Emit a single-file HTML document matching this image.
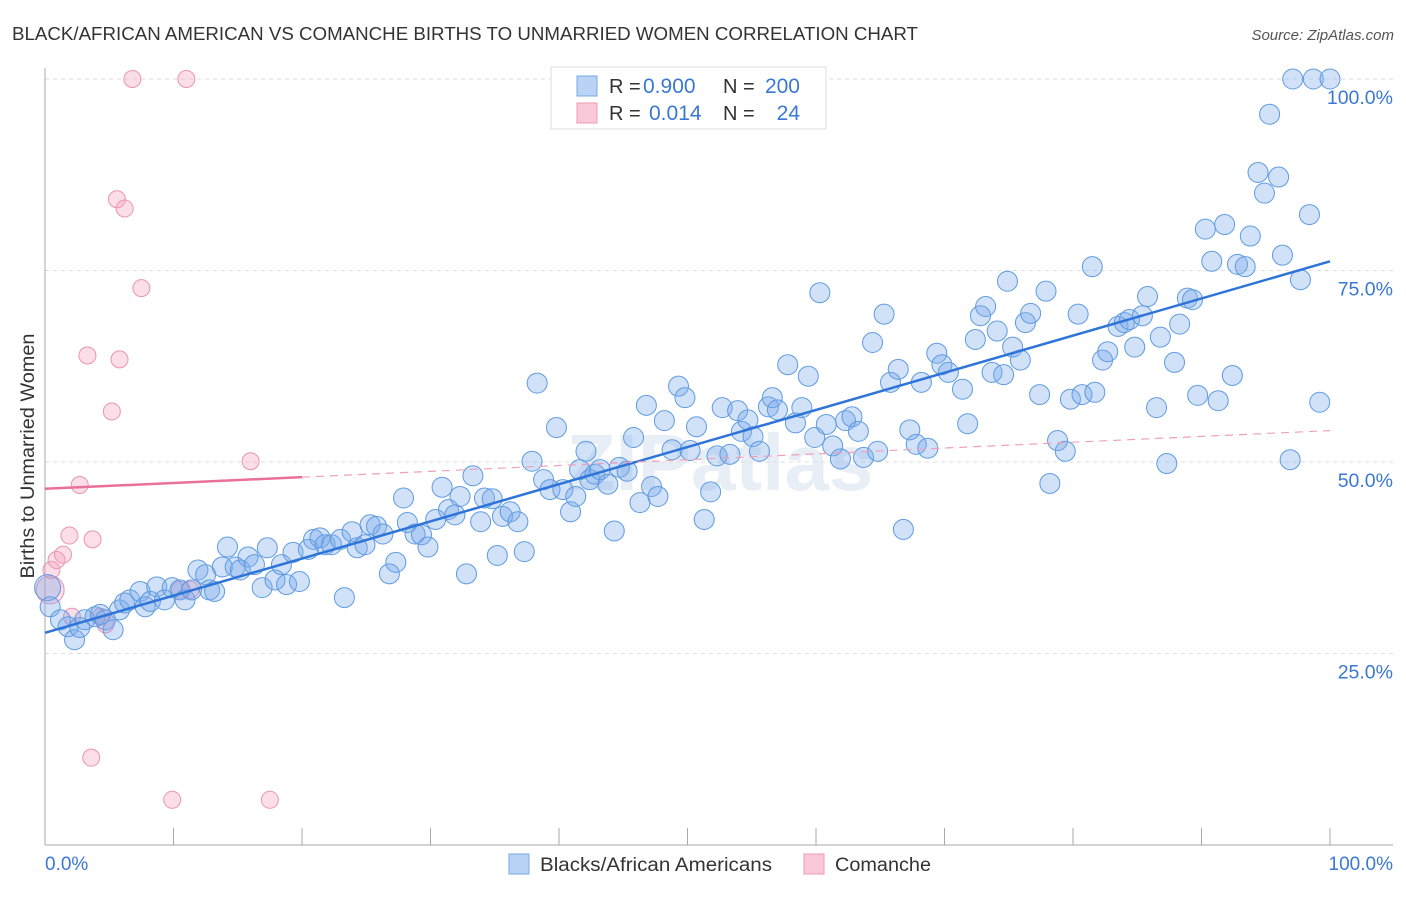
<!DOCTYPE html>
<html><head><meta charset="utf-8">
<style>
body{margin:0;background:#fff;}
svg text{font-family:"Liberation Sans",sans-serif;}
</style></head>
<body>
<svg id="chart" width="1406" height="892" xmlns="http://www.w3.org/2000/svg">
<text x="12" y="40" font-size="18" fill="#333" textLength="906" lengthAdjust="spacingAndGlyphs">BLACK/AFRICAN AMERICAN VS COMANCHE BIRTHS TO UNMARRIED WOMEN CORRELATION CHART</text>
<text x="1394" y="40" font-size="15" fill="#555" text-anchor="end" font-style="italic">Source: ZipAtlas.com</text>
<text x="720" y="490" font-size="80" fill="#dfe8f3" text-anchor="middle" font-weight="bold" opacity="0.7">ZIPatlas</text>
<g id="grid"></g>
<g id="axes"></g>
<g id="pinkPts"></g>
<g id="bluePts"></g>
<g id="lines"></g>
<text transform="translate(34,456) rotate(-90)" font-size="19" fill="#333" text-anchor="middle" textLength="245" lengthAdjust="spacingAndGlyphs">Births to Unmarried Women</text>
<text x="45" y="870" font-size="19" fill="#3a78d4">0.0%</text>
<text x="1393" y="870" font-size="19" fill="#3a78d4" text-anchor="end">100.0%</text>
<g>
<rect x="551" y="67" width="275" height="62" fill="#fff" stroke="#ddd"/>
<rect x="577" y="76" width="20" height="20" fill="#b8d3f5" stroke="#7aa9e6"/>
<rect x="577" y="103" width="20" height="20" fill="#fac8d8" stroke="#ee9ab7"/>
<text x="609" y="93" font-size="20" fill="#333">R =</text>
<text x="643" y="93" font-size="21" fill="#3a78d4">0.900</text>
<text x="723" y="93" font-size="20" fill="#333">N =</text>
<text x="800" y="93" font-size="21" fill="#3a78d4" text-anchor="end">200</text>
<text x="609" y="120" font-size="20" fill="#333">R =</text>
<text x="649" y="120" font-size="21" fill="#3a78d4">0.014</text>
<text x="723" y="120" font-size="20" fill="#333">N =</text>
<text x="800" y="120" font-size="21" fill="#3a78d4" text-anchor="end">24</text>
</g>
<g>
<rect x="509" y="854" width="20" height="20" fill="#b8d3f5" stroke="#7aa9e6"/>
<text x="540" y="871" font-size="19" fill="#333" textLength="232" lengthAdjust="spacingAndGlyphs">Blacks/African Americans</text>
<rect x="804" y="854" width="20" height="20" fill="#fac8d8" stroke="#ee9ab7"/>
<text x="835" y="871" font-size="19" fill="#333" textLength="96" lengthAdjust="spacingAndGlyphs">Comanche</text>
</g>
</svg>
<script>
const blueX=[0.2,0.4,1.2,1.8,2.3,2.7,3.1,3.9,4.3,4.7,5.3,5.8,6.2,6.6,7.4,7.8,8.2,8.7,9.3,9.9,10.5,10.9,11.4,11.9,12.5,12.8,13.2,13.8,14.2,14.8,15.2,15.8,16.3,16.9,17.3,17.9,18.4,18.8,19.3,19.8,20.5,20.9,21.4,21.8,22.3,23.0,23.3,23.9,24.3,24.9,25.3,25.8,26.3,26.8,27.3,27.9,28.2,28.8,29.3,29.8,30.4,30.9,31.4,31.9,32.3,32.8,33.3,33.9,34.2,34.8,35.2,35.6,36.2,36.8,37.3,37.9,38.3,38.8,39.3,39.8,40.3,40.9,41.3,41.6,42.1,42.4,42.8,43.2,43.8,44.3,44.7,45.3,45.8,46.3,46.8,47.2,47.7,48.2,48.8,49.3,49.8,50.2,50.7,51.3,51.8,52.3,52.7,53.3,53.9,54.2,54.7,55.1,55.6,56.3,56.6,57.0,57.8,58.4,58.9,59.4,59.9,60.3,60.8,61.3,61.9,62.3,62.8,63.3,63.7,64.4,64.8,65.3,65.8,66.4,66.8,67.3,67.8,68.2,68.7,69.4,69.8,70.3,71.4,71.8,72.4,72.8,73.2,73.7,74.1,74.6,74.9,75.3,75.9,76.3,76.7,77.4,77.9,78.2,78.8,79.4,79.8,80.4,80.7,81.5,81.7,82.3,82.7,83.5,84.0,84.4,84.8,85.4,85.8,86.5,86.8,87.3,87.9,88.3,88.9,89.3,89.7,90.3,90.8,91.3,91.8,92.4,92.8,93.4,93.8,94.4,94.9,95.3,96.0,96.3,96.9,97.1,97.7,98.4,98.7,99.2,100];
const blueY=[33.6,31.1,29.4,28.5,26.8,28.4,29.4,29.8,30.1,29.4,28.1,30.7,31.6,32.0,33.1,31.1,31.8,33.7,32.0,33.6,33.3,32.0,33.3,35.9,35.3,33.3,33.1,36.3,38.9,36.3,35.9,37.6,36.6,33.6,38.8,34.6,36.6,34.0,38.2,34.4,38.6,39.9,40.1,39.2,39.2,39.9,32.3,40.9,38.8,39.2,41.8,41.6,40.6,35.4,36.9,45.3,42.1,40.6,40.5,38.9,42.5,46.7,43.8,43.1,45.5,35.4,48.2,42.2,45.3,45.2,37.8,42.9,43.5,42.2,38.3,50.1,60.3,47.7,46.4,54.5,46.4,43.5,45.5,49.0,51.4,47.7,48.4,49.0,47.1,41.0,49.3,48.8,53.2,44.7,57.4,46.8,45.5,55.4,51.6,59.9,58.4,51.5,54.6,42.5,46.1,50.8,57.1,51.0,56.7,54.0,55.5,53.3,51.4,57.2,58.4,56.8,62.7,55.1,57.1,61.2,53.2,72.1,54.9,52.1,50.4,55.4,55.9,54.0,50.6,65.6,51.4,69.3,60.4,62.1,41.2,54.2,52.3,60.4,51.8,64.2,62.7,61.7,59.5,55.0,66.0,69.1,70.3,61.7,67.1,61.4,73.6,65.0,63.3,68.2,69.4,58.8,72.3,47.2,52.8,51.4,58.2,69.3,58.8,75.5,59.1,63.3,64.4,67.7,68.2,68.6,65.0,69.1,71.6,57.1,66.3,49.8,63.0,68.0,71.4,71.2,58.7,80.4,76.2,58.0,81.0,61.3,75.8,75.5,79.5,87.8,85.1,95.4,87.2,77.0,50.3,100,73.8,82.3,100,57.8,100];
const pinkX=[0.4,0.5,0.9,1.4,1.9,2.1,2.7,3.3,3.6,3.7,4.3,4.7,5.2,5.6,5.8,6.2,6.8,7.5,9.9,10.5,11.0,11.3,16.0,17.5];
const pinkY=[33.3,35.9,37.2,37.9,40.4,29.8,47.0,63.9,11.4,39.9,29.8,28.8,56.6,84.3,63.4,83.1,100,72.7,5.9,33.3,100,33.3,50.1,5.9];
const blueTrend=[27.7,76.2];   // y at x=0, x=100
const pinkTrend=[46.5,54.1];   // y at x=0, x=100
const pinkSolidEnd=20;
const yTicks=[25,50,75,100];
const yTickLabels=["25.0%","50.0%","75.0%","100.0%"];
const xTicks=[0,10,20,30,40,50,60,70,80,90,100];

const NS="http://www.w3.org/2000/svg";
const X0=45,X1=1330,Y0=845,Y100=79;
function sx(v){return X0+(X1-X0)*v/100;}
function sy(v){return Y0-(Y0-Y100)*v/100;}
function mk(tag,attrs,parent){const e=document.createElementNS(NS,tag);for(const k in attrs)e.setAttribute(k,attrs[k]);parent.appendChild(e);return e;}
const grid=document.getElementById('grid'),axes=document.getElementById('axes');
yTicks.forEach((t,i)=>{
  const l=mk('line',{x1:X0,x2:1393,y1:sy(t),y2:sy(t),stroke:'#ddd','stroke-dasharray':'4,4'},grid);
  
  
  const tx=mk('text',{x:1393,y:sy(t)+25,'font-size':19.5,fill:'#3a78d4','text-anchor':'end'},grid);
  tx.textContent=yTickLabels[i];
  
  
});
const ya=mk('line',{x1:X0,x2:X0,y1:68,y2:Y0,stroke:'#aaa'},axes);


const xa=mk('line',{x1:X0,x2:1393,y1:Y0,y2:Y0,stroke:'#aaa'},axes);


xTicks.forEach(t=>{
  const l=mk('line',{x1:sx(t),x2:sx(t),y1:828,y2:Y0,stroke:'#aaa'},axes);
  
  
});
const pg=document.getElementById('pinkPts');
pinkX.forEach((x,i)=>{
  const c=mk('circle',{cx:sx(x),cy:sy(pinkY[i]),r:i===0?14:8.5,fill:'rgba(245,160,190,0.35)',stroke:'#ea94b3','stroke-width':1},pg);
  
  
});
const bg=document.getElementById('bluePts');
blueX.forEach((x,i)=>{
  const c=mk('circle',{cx:sx(x),cy:sy(blueY[i]),r:i===0?13:10,fill:'rgba(120,170,235,0.35)',stroke:'#5f9be0','stroke-width':1},bg);
  
  
});
const lg=document.getElementById('lines');
const bl=mk('line',{x1:sx(0),y1:sy(blueTrend[0]),x2:sx(100),y2:sy(blueTrend[1]),stroke:'#2f74d8','stroke-width':2.5},lg);


const pAt=x=>pinkTrend[0]+(pinkTrend[1]-pinkTrend[0])*x/100;
const pl=mk('line',{x1:sx(0),y1:sy(pAt(0)),x2:sx(pinkSolidEnd),y2:sy(pAt(pinkSolidEnd)),stroke:'#e8709a','stroke-width':2.5},lg);


const pd=mk('line',{x1:sx(pinkSolidEnd),y1:sy(pAt(pinkSolidEnd)),x2:sx(100),y2:sy(pAt(100)),stroke:'#eea0bb','stroke-width':1.2,'stroke-dasharray':'8,6'},lg);


</script>
</body></html>
